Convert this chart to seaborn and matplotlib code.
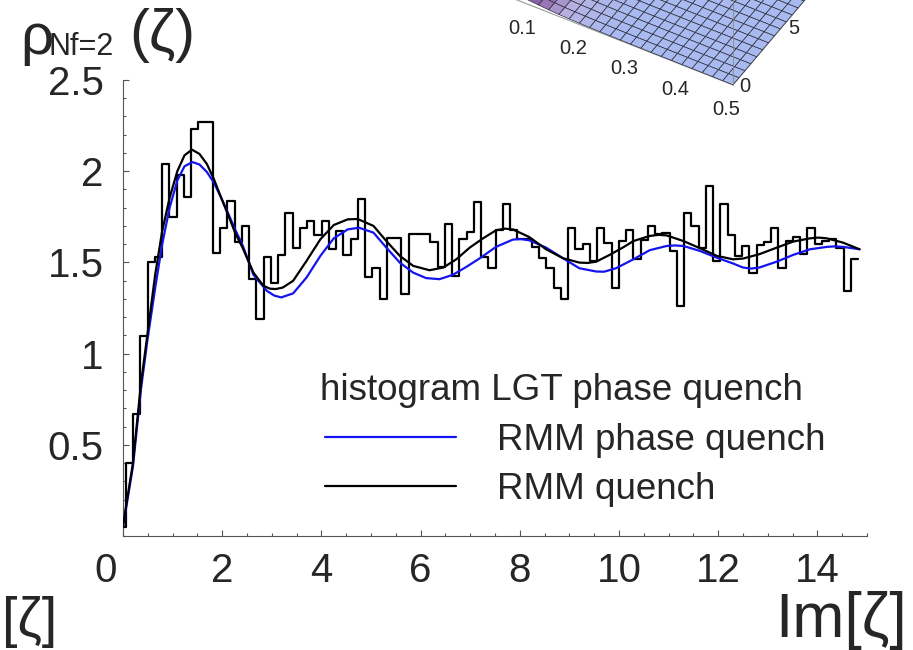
import numpy as np
import pandas as pd
import matplotlib
matplotlib.use("Agg")
import matplotlib.pyplot as plt
import matplotlib.transforms as mtransforms
from matplotlib.colors import LinearSegmentedColormap, Normalize
from matplotlib.ticker import MultipleLocator, FixedLocator
from mpl_toolkits.mplot3d import proj3d
import seaborn as sns

# ---------------- lattice histogram (phase quenched) ----------------
# a short leading bin [0, hist_first_edge], then equal-width bins up to hist_last_edge
hist_lead_height = 0.05
hist_first_edge = 0.06
hist_last_edge = 14.82
hist_heights = [
    0.40, 0.667, 1.098, 1.504, 1.532, 2.04, 1.749, 1.978, 1.858, 2.233,
    2.27, 2.27, 1.554, 1.69, 1.836, 1.614, 1.70, 1.408, 1.19, 1.53,
    1.385, 1.541, 1.772, 1.581, 1.69, 1.727, 1.65, 1.727, 1.575, 1.674,
    1.541, 1.63, 1.845, 1.42, 1.47, 1.30, 1.636, 1.636, 1.326, 1.654,
    1.654, 1.654, 1.614, 1.475, 1.712, 1.423, 1.627, 1.668, 1.832, 1.53,
    1.47, 1.68, 1.821, 1.676, 1.63, 1.627, 1.585, 1.525, 1.468, 1.359,
    1.30, 1.69, 1.572, 1.603, 1.508, 1.687, 1.605, 1.36, 1.615, 1.676,
    1.52, 1.621, 1.70, 1.658, 1.663, 1.565, 1.262, 1.772, 1.70, 1.58,
    1.918, 1.506, 1.82, 1.65, 1.536, 1.59, 1.444, 1.596, 1.614, 1.69,
    1.468, 1.617, 1.639, 1.548, 1.69, 1.603, 1.617, 1.627, 1.581, 1.341,
    1.517,
]

# ---------------- RMM curves ----------------
rmm_pq_x = [0.0, 0.06, 0.2, 0.36, 0.49, 0.65, 0.79, 0.94, 1.095, 1.24,
            1.40, 1.54, 1.69, 1.835, 1.98, 2.115, 2.26, 2.41, 2.63, 2.90,
            3.05, 3.19, 3.43, 3.70, 3.98, 4.25, 4.53, 4.76, 5.05, 5.31,
            5.58, 5.85, 6.11, 6.38, 6.65, 6.92, 7.19, 7.52, 7.86, 8.02,
            8.19, 8.53, 8.87, 9.2, 9.54, 9.7, 9.94, 10.29, 10.62, 10.96,
            11.13, 11.3, 11.63, 11.97, 12.3, 12.5, 12.66, 12.83, 13.18, 13.51,
            13.85, 14.19, 14.36, 14.52, 14.85]
rmm_pq_y = [0.05, 0.15, 0.38, 0.80, 1.07, 1.362, 1.60, 1.80, 1.949, 2.027,
            2.05, 2.037, 1.996, 1.936, 1.854, 1.772, 1.681, 1.595, 1.432, 1.344,
            1.318, 1.308, 1.33, 1.417, 1.536, 1.632, 1.681, 1.69, 1.663, 1.581,
            1.499, 1.444, 1.414, 1.408, 1.432, 1.475, 1.522, 1.585, 1.625, 1.628,
            1.621, 1.581, 1.523, 1.468, 1.45, 1.449, 1.468, 1.517, 1.567, 1.59,
            1.593, 1.59, 1.563, 1.526, 1.494, 1.472, 1.466, 1.472, 1.504, 1.541,
            1.572, 1.585, 1.588, 1.585, 1.572]

rmm_q_x = [0.0, 0.06, 0.2, 0.36, 0.49, 0.65, 0.79, 0.94, 1.095, 1.24,
           1.39, 1.54, 1.69, 1.835, 1.98, 2.115, 2.26, 2.41, 2.63, 2.83,
           2.96, 3.08, 3.22, 3.43, 3.70, 3.98, 4.25, 4.53, 4.73, 5.05,
           5.31, 5.58, 5.85, 6.18, 6.46, 6.72, 6.99, 7.26, 7.52, 7.70,
           7.86, 8.19, 8.53, 8.87, 9.2, 9.37, 9.54, 9.81, 10.1, 10.29,
           10.62, 10.8, 10.96, 11.3, 11.63, 11.97, 12.3, 12.5, 12.83, 13.18,
           13.51, 13.85, 14.02, 14.19, 14.52, 14.85]
rmm_q_y = [0.05, 0.16, 0.40, 0.83, 1.10, 1.435, 1.672, 1.854, 2.0, 2.087,
           2.118, 2.095, 2.04, 1.955, 1.854, 1.763, 1.663, 1.581, 1.444, 1.372,
           1.356, 1.354, 1.362, 1.399, 1.508, 1.627, 1.705, 1.736, 1.738, 1.70,
           1.617, 1.536, 1.481, 1.457, 1.472, 1.517, 1.581, 1.632, 1.676, 1.685,
           1.681, 1.639, 1.572, 1.523, 1.499, 1.497, 1.504, 1.541, 1.585, 1.617,
           1.645, 1.651, 1.648, 1.617, 1.578, 1.536, 1.517, 1.521, 1.545, 1.581,
           1.614, 1.632, 1.636, 1.632, 1.608, 1.572]

series_labels = ["RMM phase quench", "RMM quench"]
series_colors = ["#1414f0", "black"]

x_ticks = [0, 2, 4, 6, 8, 10, 12, 14]
y_ticks = [0.5, 1.0, 1.5, 2.0, 2.5]
y_tick_labels = ["0.5", "1", "1.5", "2", "2.5"]

# ---------------- inset surface ----------------
inset_mu_ticks = [0.1, 0.2, 0.3, 0.4, 0.5]
inset_im_ticks = [0, 5, 10, 15]
# surface height across mu (same for every Im value), 26 grid lines
inset_profile = [1.00, 0.78, 0.60, 0.46, 0.35, 0.27, 0.21, 0.16, 0.125, 0.10,
                 0.08, 0.065, 0.055, 0.047, 0.040, 0.035, 0.031, 0.028, 0.025,
                 0.023, 0.021, 0.020, 0.019, 0.018, 0.017, 0.016]

# ---------------- style ----------------
sns.set_style("ticks")
plt.rcParams["font.family"] = ["Liberation Sans", "DejaVu Sans"]

W, H = 913, 650
fig = plt.figure(figsize=(W / 100, H / 100), dpi=100)
fig.patch.set_facecolor("white")

ax = fig.add_axes([123 / W, (H - 536) / H, (867 - 123) / W, (536 - 80) / H])
ax.set_facecolor("none")

# histogram outline
n_bins = len(hist_heights)
edges = np.concatenate([[0.0], np.linspace(hist_first_edge, hist_last_edge, n_bins + 1)])
hist_df = pd.DataFrame({
    "center": 0.5 * (edges[:-1] + edges[1:]),
    "height": np.concatenate([[hist_lead_height], hist_heights]),
})
sns.histplot(data=hist_df, x="center", weights="height", bins=edges.tolist(),
             element="step", fill=False, color="black", linewidth=1.6,
             ax=ax, zorder=2)

# RMM curves
curves = pd.concat([
    pd.DataFrame({"Im": rmm_pq_x, "rho": rmm_pq_y, "model": series_labels[0]}),
    pd.DataFrame({"Im": rmm_q_x, "rho": rmm_q_y, "model": series_labels[1]}),
], ignore_index=True)
sns.lineplot(data=curves, x="Im", y="rho", hue="model", hue_order=series_labels,
             palette=dict(zip(series_labels, series_colors)), estimator=None,
             sort=False, linewidth=1.6, ax=ax, zorder=3, legend=False)

ax.set_xlim(0, 15)
ax.set_ylim(0, 2.5)
ax.set_xlabel("")
ax.set_ylabel("")
sns.despine(ax=ax)
for s in ("left", "bottom"):
    ax.spines[s].set_color("#555555")
    ax.spines[s].set_linewidth(0.8)

ax.xaxis.set_major_locator(FixedLocator(x_ticks))
ax.xaxis.set_minor_locator(MultipleLocator(0.5))
ax.set_xticklabels([str(t) for t in x_ticks])
ax.yaxis.set_major_locator(FixedLocator(y_ticks))
ax.yaxis.set_minor_locator(MultipleLocator(0.1))
ax.set_yticklabels(y_tick_labels)
ax.tick_params(which="both", direction="in", color="#555555", width=0.8)
ax.tick_params(which="major", length=4.5, labelsize=29)
ax.tick_params(which="minor", length=2.5)
ax.tick_params(axis="y", pad=14)
ax.tick_params(axis="x", pad=11.5)
# the origin label sits a little to the left of its tick
zero_lab = ax.get_xticklabels()[0]
zero_lab.set_transform(zero_lab.get_transform()
                       + mtransforms.ScaledTranslation(-17 / 100, 0, fig.dpi_scale_trans))

# legend
fs_leg = 26.5
fig.text(320 / W, 1 - 400 / H, "histogram LGT phase quench", fontsize=fs_leg,
         ha="left", va="baseline")
handles = [plt.Line2D([], [], color=c, lw=1.6) for c in series_colors]
fig.legend(handles, series_labels, loc="upper left",
           bbox_to_anchor=(325 / W, 1 - 423 / H), frameon=False, fontsize=fs_leg,
           borderpad=0, borderaxespad=0, handlelength=3.55, handletextpad=1.13,
           labelspacing=0.37)

# axis titles
fig.text(20 / W, 1 - 54 / H, "ρ", fontsize=42, ha="left", va="baseline")
fig.text(48 / W, 1 - 55 / H, "Nf=2", fontsize=22, ha="left", va="baseline")
fig.text(129 / W, 1 - 51 / H, "(ζ)", fontsize=43, ha="left", va="baseline")
fig.text(2 / W, 1 - 636 / H, "[ζ]", fontsize=40, ha="left", va="baseline")
fig.text(907 / W, 1 - 637 / H, "Im[ζ]", fontsize=45, ha="right", va="baseline")

# ---------------- 3D inset ----------------
ax3d = fig.add_axes([0.45, 0.75, 0.5, 0.5], projection="3d", proj_type="ortho")
ax3d.set_facecolor((1, 1, 1, 0))
ax3d.patch.set_alpha(0)
mu = np.linspace(0, 0.5, len(inset_profile))
im = np.linspace(0, 15, len(inset_profile))
MU, IM = np.meshgrid(mu, im)
Z = np.tile(np.asarray(inset_profile), (len(im), 1))
surf_cmap = LinearSegmentedColormap.from_list(
    "surf", ["#a8baef", "#b8b3e3", "#9c7bbb", "#8a64a8"])
fc = surf_cmap(Normalize(0.045, 0.27, clip=True)(Z))
ax3d.plot_surface(MU, IM, Z, facecolors=fc, edgecolor="#2c2c3c", linewidth=0.5,
                  rstride=1, cstride=1, shade=False, antialiased=True)
zmax = 10.0
ax3d.plot([0.5, 0.5], [0, 0], [0, zmax], color="#8a8a8a", lw=0.6)
ax3d.set_xlim(0, 0.5)
ax3d.set_ylim(0, 15)
ax3d.set_zlim(0, zmax)
ax3d.set_box_aspect((1, 1, 0.75))
ax3d.view_init(elev=43, azim=-60)
ax3d.set_xticks(inset_mu_ticks)
ax3d.set_xticklabels([f"{t:g}" for t in inset_mu_ticks])
ax3d.set_yticks(inset_im_ticks)
ax3d.set_yticklabels([])
ax3d.set_zticks([])
ax3d.grid(False)
for axis in (ax3d.xaxis, ax3d.yaxis, ax3d.zaxis):
    axis.set_pane_color((1, 1, 1, 0))
    axis._axinfo["tick"]["inward_factor"] = 0.0
    axis._axinfo["tick"]["outward_factor"] = 0.0
ax3d.xaxis.line.set_color("#9a9a9a")
ax3d.yaxis.line.set_color("#9a9a9a")
ax3d.zaxis.line.set_color((0, 0, 0, 0))
ax3d.tick_params(axis="both", labelsize=14.5)
ax3d.tick_params(axis="x", pad=-0.5)


def corner_px(u, v, z):
    xs, ys, _ = proj3d.proj_transform(u, v, z, ax3d.M)
    return np.asarray(ax3d.transData.transform((xs, ys)))


# size the inset so that the mu edge spans the right width, then move its front corner
fig.canvas.draw()
front, back = corner_px(0.5, 0, 0), corner_px(0.0, 0, 0)
scale = 256.0 / (front[0] - back[0])
pos = ax3d.get_position()
cx, cy = pos.x0 + pos.width / 2, pos.y0 + pos.height / 2
w, h = pos.width * scale, pos.height * scale
ax3d.set_position([cx - w / 2, cy - h / 2, w, h])
fig.canvas.draw()
front = corner_px(0.5, 0, 0)
dx, dy = (733 - front[0]) / W, ((H - 85) - front[1]) / H
ax3d.set_position([cx - w / 2 + dx, cy - h / 2 + dy, w, h])

# Im-axis labels of the inset sit just to the right of the front-right edge;
# only those that land inside the figure are drawn
fig.canvas.draw()
for v in inset_im_ticks:
    p = corner_px(0.5, v, 0)
    lx, ly = p[0] + 12, p[1] - 2
    if ly + 12 < H and lx + 12 < W:
        fig.text(lx / W, ly / H, str(v), fontsize=14.5, ha="center", va="center")

fig.savefig("out.png", dpi=100)
